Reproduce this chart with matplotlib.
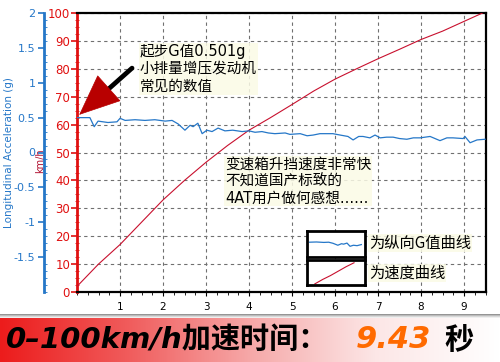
import numpy as np
import matplotlib
matplotlib.use('Agg')
from matplotlib import pyplot as plt
from matplotlib.ticker import MultipleLocator
from matplotlib.colors import LinearSegmentedColormap

plt.rcParams['font.family'] = ['DejaVu Sans', 'Noto Sans CJK SC']

#=================================================
#DATA
#=================================================
# longitudinal acceleration (g) vs time (s)
t_g = [0, 0.30, 0.40, 0.49, 0.72, 0.93, 1.00, 1.12, 1.35, 1.58, 1.81, 2.05, 2.21, 2.35, 2.51,
       2.63, 2.70, 2.81, 2.91, 3.02, 3.14, 3.28, 3.44, 3.62, 3.84, 4.00, 4.14, 4.30, 4.45, 4.60,
       4.84, 4.95, 5.19, 5.35, 5.49, 5.65, 5.95, 6.12, 6.30, 6.42, 6.55, 6.65, 6.81, 6.93, 7.05,
       7.20, 7.35, 7.50, 7.67, 7.82, 7.98, 8.21, 8.44, 8.60, 8.74, 8.98, 9.02, 9.14, 9.30, 9.49]
g_val = [0.50, 0.50, 0.37, 0.45, 0.43, 0.44, 0.49, 0.46, 0.47, 0.46, 0.47, 0.45, 0.46, 0.41, 0.32,
         0.39, 0.37, 0.42, 0.27, 0.32, 0.30, 0.35, 0.31, 0.32, 0.30, 0.31, 0.29, 0.30, 0.28, 0.27,
         0.28, 0.26, 0.27, 0.24, 0.25, 0.27, 0.27, 0.25, 0.23, 0.18, 0.23, 0.23, 0.21, 0.25, 0.21,
         0.22, 0.22, 0.20, 0.19, 0.21, 0.21, 0.23, 0.17, 0.21, 0.21, 0.20, 0.23, 0.14, 0.18, 0.19]

# speed (km/h) vs time (s)
t_v = [0, 0.5, 1.0, 1.5, 2.0, 2.5, 3.0, 3.5, 4.0, 4.5, 5.0, 5.5, 6.0, 6.5, 7.0, 7.5, 8.0, 8.5, 9.0, 9.43]
speed = [2, 10, 17, 25, 33, 40, 46.5, 52.5, 58, 62.5, 67.2, 72, 76.3, 80, 83.6, 87, 90.5, 93.5, 97, 100]

g_ticks = [-1.5, -1, -0.5, 0, 0.5, 1, 1.5, 2]
g_ticklabels = ['-1.5', '-1', '-0.5', '0', '0.5', '1', '1.5', '2']
x_ticks = [1, 2, 3, 4, 5, 6, 7, 8, 9]

note1 = '起步G值0.501g\n小排量增压发动机\n常见的数值'
note2 = '变速箱升挡速度非常快\n不知道国产标致的\n4AT用户做何感想......'
leg1 = '为纵向G值曲线'
leg2 = '为速度曲线'
banner1 = '0–100km/h加速时间：'
banner2 = '9.43'
banner3 = '秒'

BLUE = '#2577c8'
RED = '#e01010'
W, H = 500.0, 362.0

#=================================================
#FIGURE
#=================================================
fig = plt.figure(figsize=(5, 3.62), dpi=100)
fig.patch.set_facecolor('white')

ax = fig.add_axes([77/W, 1-292/H, (486-77)/W, (292-13)/H])
ax.plot(t_v, speed, color='#c8102e', lw=0.8, zorder=3)
ax.set_xlim(0, 9.51)
ax.set_ylim(0, 100)
ax.set_yticks(range(0, 101, 10))
ax.set_xticks(x_ticks)
ax.xaxis.set_minor_locator(MultipleLocator(0.25))
ax.yaxis.set_minor_locator(MultipleLocator(2.5))
ax.grid(True, which='major', linestyle=(0, (3, 3)), color='#707070', lw=0.8)
ax.tick_params(axis='y', colors=RED, labelsize=8.5, length=4, width=1.2, pad=1)
ax.tick_params(axis='y', which='minor', colors=RED, length=3, direction='inout')
ax.tick_params(axis='x', labelsize=7.5, length=3, pad=4)
ax.tick_params(axis='x', which='minor', length=2)
ax.set_xlabel('Seconds', fontsize=8, labelpad=2)
for s in ['top', 'right', 'bottom']:
    ax.spines[s].set_linewidth(1.6)
ax.spines['left'].set_color(RED)
ax.spines['left'].set_linewidth(2)
ax.set_ylabel('km/h', color='#b01030', fontsize=7, labelpad=-2)

# G axis
ax2 = ax.twinx()
ax2.plot(t_g, g_val, color=BLUE, lw=0.9, zorder=3)
ax2.set_ylim(-2, 2)
ax2.set_yticks(g_ticks)
ax2.set_yticklabels(g_ticklabels)
ax2.yaxis.set_minor_locator(MultipleLocator(0.1))
ax2.spines['right'].set_visible(False)
ax2.spines['top'].set_visible(False)
ax2.spines['bottom'].set_visible(False)
ax2.spines['left'].set_visible(True)
ax2.spines['left'].set_position(('outward', 24))
ax2.spines['left'].set_color(BLUE)
ax2.spines['left'].set_linewidth(2)
ax2.yaxis.set_ticks_position('left')
ax2.yaxis.set_label_position('left')
ax2.tick_params(axis='y', colors=BLUE, labelsize=8, length=4, width=1.2, pad=2)
ax2.tick_params(axis='y', which='minor', colors=BLUE, length=2, direction='in')
ax2.set_ylabel('Longitudinal Acceleration (g)', color=BLUE, fontsize=7.5)
ax2.yaxis.set_label_coords(-0.155, 0.5)
ax.yaxis.set_label_coords(-0.078, 0.47)

# arrow pointing at the launch G value
ax2.annotate('', xy=(0.66, 0.87), xytext=(1.28, 1.21),
             arrowprops=dict(arrowstyle='-', color='black', lw=3.4, shrinkA=0, shrinkB=0))
ax2.annotate('', xy=(0.05, 0.54), xytext=(0.74, 0.92),
             arrowprops=dict(arrowstyle='-|>,head_length=1.4,head_width=0.6', color='#b80000',
                             lw=0.5, mutation_scale=20, shrinkA=0, shrinkB=0))
fig.text(140/W, 1-44/H, note1, fontsize=10.5, va='top', ha='left', linespacing=1.2,
         family=['DejaVu Sans', 'Noto Sans CJK SC'],
         bbox=dict(facecolor='#fbfbe6', edgecolor='none', alpha=0.85, pad=0.5), zorder=5)
fig.text(225/W, 1-157/H, note2, fontsize=10.5, va='top', ha='left', linespacing=1.15,
         family=['DejaVu Sans', 'Noto Sans CJK SC'],
         bbox=dict(facecolor='#fbfbe6', edgecolor='none', alpha=0.85, pad=0.5), zorder=5)

# legend boxes
lg1 = fig.add_axes([307/W, 1-256.5/H, 58/W, 26/H])
lg1.plot(t_g[9:22], g_val[9:22], color=BLUE, lw=0.9)
lg1.set_xlim(1.5, 3.4)
lg1.set_ylim(-0.2, 1.0)
lg2 = fig.add_axes([307/W, 1-285/H, 58/W, 25/H])
lg2.plot(t_v[:6], speed[:6], color='#c8102e', lw=0.8)
lg2.set_xlim(-0.5, 3.2)
lg2.set_ylim(0, 45)
for a in (lg1, lg2):
    a.set_xticks([])
    a.set_yticks([])
    for s in a.spines.values():
        s.set_linewidth(2)
fig.text(369/W, 1-243/H, leg1, fontsize=11, va='center', ha='left',
         family=['Noto Sans CJK SC', 'DejaVu Sans'],
         bbox=dict(facecolor='#fbfbe6', edgecolor='none', alpha=0.85, pad=0.5))
fig.text(369/W, 1-273/H, leg2, fontsize=11, va='center', ha='left',
         family=['Noto Sans CJK SC', 'DejaVu Sans'],
         bbox=dict(facecolor='#fbfbe6', edgecolor='none', alpha=0.85, pad=0.5))

#=================================================
#BANNER
#=================================================
sh = fig.add_axes([0, 1-319/H, 1, 5/H])
sh.imshow(np.linspace(1, 0, 5).reshape(-1, 1), aspect='auto', cmap='Greys',
          vmin=0, vmax=2, extent=[0, 1, 0, 1])
sh.axis('off')
bn = fig.add_axes([0, 0, 1, 1-318/H])
cmap = LinearSegmentedColormap.from_list('bn', ['#ec1c1c', '#f05a5a', '#f6a8a8', '#fce6e6', '#ffffff'])
bn.imshow(np.linspace(0, 1, 256).reshape(1, -1), aspect='auto', cmap=cmap, extent=[0, 1, 0, 1])
bn.axis('off')
fig.text(6/W, 22/H, banner1, fontsize=21, fontweight='bold', style='italic', va='center', ha='left',
         family=['DejaVu Sans', 'Noto Sans CJK SC'], color='black')
fig.text(356/W, 22/H, banner2, fontsize=22, fontweight='bold', style='italic', va='center', ha='left',
         family=['DejaVu Sans'], color='#ff6a00')
fig.text(444/W, 22/H, banner3, fontsize=21, fontweight='bold', va='center', ha='left',
         family=['Noto Sans CJK SC'], color='black')

plt.savefig('out.png', dpi=100)
